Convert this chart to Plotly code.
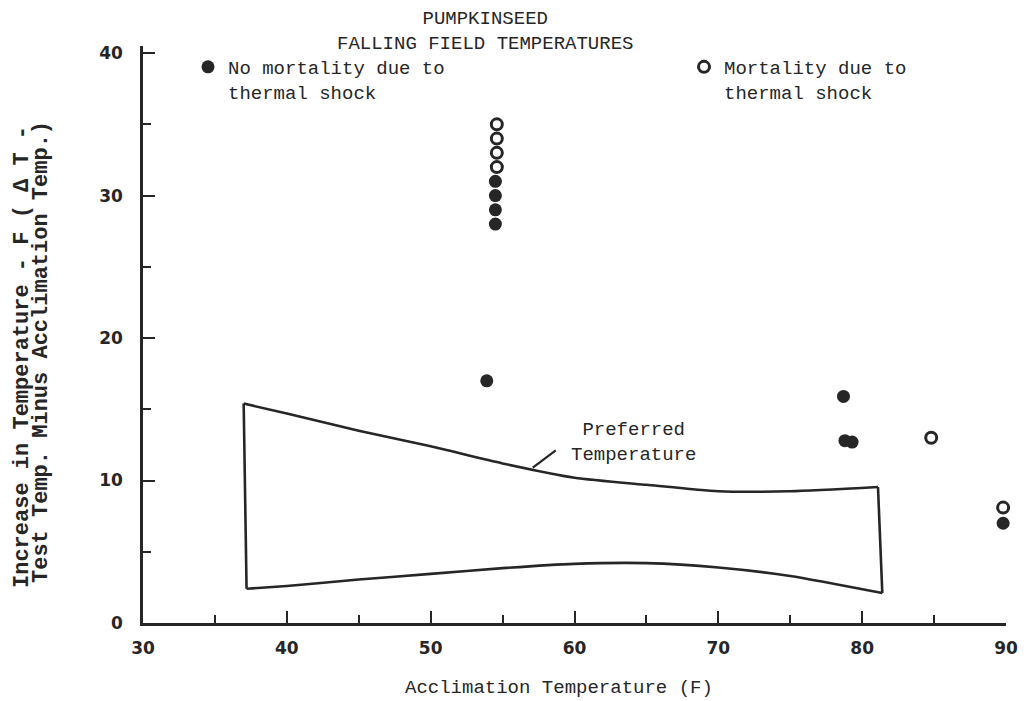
import plotly.graph_objects as go

# ---- data ----
no_mort_x = [54.5, 54.5, 54.5, 54.5, 53.9, 78.7, 78.8, 79.3, 89.8]
no_mort_y = [31, 30, 29, 28, 17, 15.9, 12.8, 12.7, 7]
mort_x = [54.6, 54.6, 54.6, 54.6, 84.8, 89.8]
mort_y = [35, 34, 33, 32, 13, 8.1]

pref_top_x = [37.0, 40, 45, 50, 55, 60, 65, 70, 75, 81.1]
pref_top_y = [15.4, 14.7, 13.5, 12.4, 11.2, 10.2, 9.7, 9.25, 9.25, 9.55]
pref_bot_x = [37.2, 40, 45, 50, 55, 60, 65, 70, 75, 81.4]
pref_bot_y = [2.4, 2.6, 3.05, 3.45, 3.85, 4.15, 4.2, 3.9, 3.3, 2.1]

x_ticks = [30, 40, 50, 60, 70, 80, 90]
y_ticks = [0, 10, 20, 30, 40]

INK = "#262626"
MONO = "Liberation Mono"

# page offset of the figure inside the browser page (body margin)
OFF = 8
L, R, T, B = 143 - OFF, 14, 46 - OFF, 78
W, H = 1012, 693
PW = W - L - R
PH = H - T - B


def px_x(px):
    return (px - OFF - L) / PW


def px_y(py):
    return 1 - (py - OFF - T) / PH


fig = go.Figure()

line_style = dict(color=INK, width=2.6)
fig.add_trace(go.Scatter(x=pref_top_x, y=pref_top_y, mode="lines",
                         line=dict(shape="spline", smoothing=0.6, **line_style),
                         showlegend=False, hoverinfo="skip"))
fig.add_trace(go.Scatter(x=pref_bot_x, y=pref_bot_y, mode="lines",
                         line=dict(shape="spline", smoothing=0.6, **line_style),
                         showlegend=False, hoverinfo="skip"))
fig.add_trace(go.Scatter(x=[pref_top_x[0], pref_bot_x[0]], y=[pref_top_y[0], pref_bot_y[0]],
                         mode="lines", line=line_style, showlegend=False, hoverinfo="skip"))
fig.add_trace(go.Scatter(x=[pref_top_x[-1], pref_bot_x[-1]], y=[pref_top_y[-1], pref_bot_y[-1]],
                         mode="lines", line=line_style, showlegend=False, hoverinfo="skip"))

fig.add_trace(go.Scatter(x=no_mort_x, y=no_mort_y, mode="markers",
                         name="No mortality due to<br>thermal shock",
                         marker=dict(symbol="circle", size=13, color=INK),
                         legend="legend", cliponaxis=False))
fig.add_trace(go.Scatter(x=mort_x, y=mort_y, mode="markers",
                         name="Mortality due to<br>thermal shock",
                         marker=dict(symbol="circle", size=11, color="white",
                                     line=dict(color=INK, width=3)),
                         legend="legend2", cliponaxis=False))

axis_common = dict(showline=True, linewidth=2.5, linecolor=INK, mirror=False,
                   showgrid=False, zeroline=False, ticks="inside", ticklen=12,
                   tickwidth=2, tickcolor=INK, automargin=False,
                   tickfont=dict(family="DejaVu Sans", size=17, color=INK, weight="bold"),
                   minor=dict(dtick=5, ticks="inside", ticklen=8, tickwidth=2,
                              tickcolor=INK, showgrid=False))

fig.update_xaxes(range=[30, 90], tickvals=x_ticks, ticklabelstandoff=8, **axis_common)
fig.update_yaxes(range=[0, 40.5], tickvals=y_ticks, ticklabelstandoff=14, **axis_common)

legend_common = dict(font=dict(family=MONO, size=19, color=INK), bgcolor="rgba(0,0,0,0)",
                     valign="top", xanchor="left", yanchor="top", tracegroupgap=0)
fig.update_layout(
    width=W, height=H,
    margin=dict(l=L, r=R, t=T, b=B, autoexpand=False),
    paper_bgcolor="white", plot_bgcolor="white",
    showlegend=True,
    legend=dict(x=px_x(188), y=px_y(48), **legend_common),
    legend2=dict(x=px_x(684), y=px_y(48), **legend_common),
    annotations=[
        dict(text="PUMPKINSEED<br>FALLING FIELD TEMPERATURES", xref="paper", yref="paper",
             x=px_x(485), y=px_y(31), xanchor="center", yanchor="middle",
             showarrow=False, font=dict(family=MONO, size=19, color=INK)),
        dict(text="Preferred<br>Temperature", x=64.1, y=12.7, xanchor="center",
             yanchor="middle", showarrow=False,
             font=dict(family=MONO, size=19, color=INK)),
        dict(text="", x=57.1, y=10.9, ax=58.8, ay=12.2, axref="x", ayref="y",
             showarrow=True, arrowhead=0, arrowwidth=2.2, arrowcolor=INK),
        dict(text="Acclimation Temperature (F)", xref="paper", yref="paper",
             x=px_x(559), y=px_y(688), xanchor="center", yanchor="middle",
             showarrow=False, font=dict(family=MONO, size=19, color=INK)),
        dict(text="<b>Increase in Temperature - F ( Δ T -</b>", xref="paper", yref="paper",
             x=px_x(22), y=px_y(357), xanchor="center", yanchor="middle",
             textangle=-90, showarrow=False, font=dict(family=MONO, size=22, color=INK)),
        dict(text="<b>Test Temp. Minus Acclimation Temp.)</b>", xref="paper", yref="paper",
             x=px_x(41), y=px_y(352), xanchor="center", yanchor="middle",
             textangle=-90, showarrow=False, font=dict(family=MONO, size=22, color=INK)),
    ],
)

fig.write_html("out.html")
